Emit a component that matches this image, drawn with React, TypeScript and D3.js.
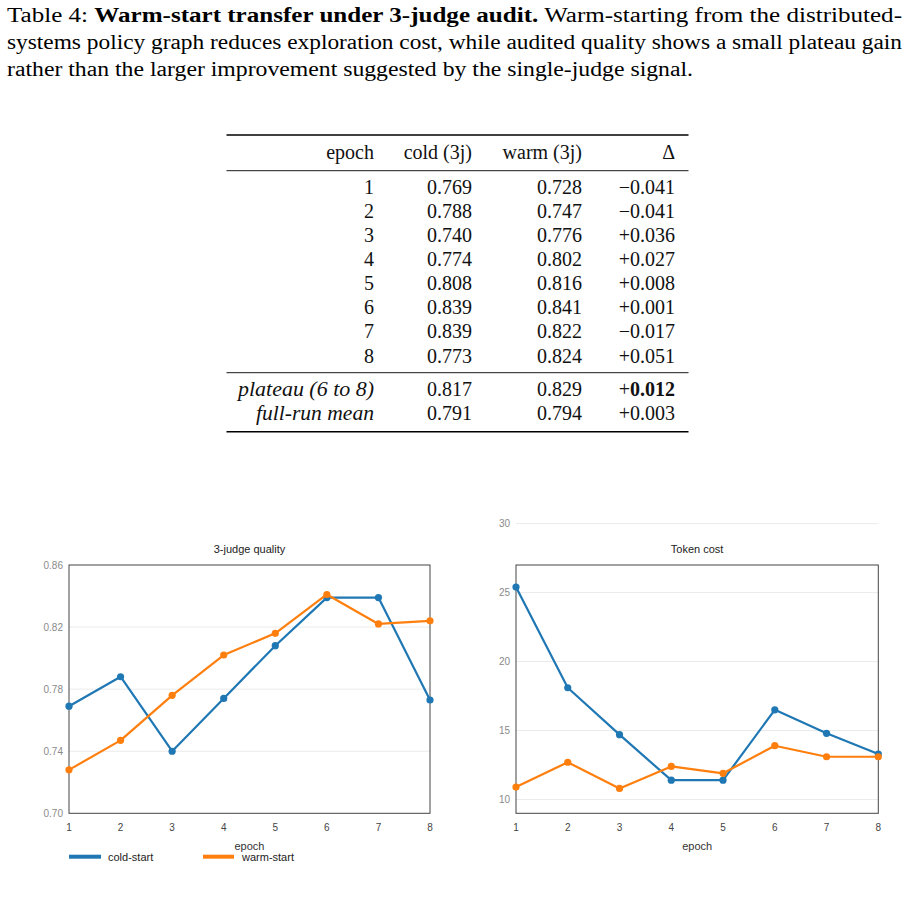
import React from 'react';
import * as d3 from 'd3';

// data
const epochs = [1, 2, 3, 4, 5, 6, 7, 8];
const coldQuality = [0.769, 0.788, 0.74, 0.774, 0.808, 0.839, 0.839, 0.773];
const warmQuality = [0.728, 0.747, 0.776, 0.802, 0.816, 0.841, 0.822, 0.824];
const deltaLabels = ['−0.041', '−0.041', '+0.036', '+0.027', '+0.008', '+0.001', '−0.017', '+0.051'];
const summaryLabels = ['plateau (6 to 8)', 'full-run mean'];
const summaryCold = ['0.817', '0.791'];
const summaryWarm = ['0.829', '0.794'];
const summaryDelta = ['0.012', '0.003'];
const headerLabels = ['epoch', 'cold (3j)', 'warm (3j)', 'Δ'];

const coldCost = [25.4, 18.1, 14.7, 11.4, 11.4, 16.5, 14.8, 13.3];
const warmCost = [10.9, 12.7, 10.8, 12.4, 11.9, 13.9, 13.1, 13.1];
const qualityTicks = [0.7, 0.74, 0.78, 0.82, 0.86];
const costTicks = [10, 15, 20, 25, 30];

const BLUE = '#1f77b4';
const ORANGE = '#ff7f0e';
const SERIF = '"Liberation Serif", "Times New Roman", serif';
const SANS = '"Liberation Sans", Arial, sans-serif';

const captionLines = [
  { parts: [['Table 4: ', 400], ['Warm-start transfer under 3-judge audit.', 700], [' Warm-starting from the distributed-', 400]], len: 895 },
  { parts: [['systems policy graph reduces exploration cost, while audited quality shows a small plateau gain', 400]], len: 895 },
  { parts: [['rather than the larger improvement suggested by the single-judge signal.', 400]], len: 686 },
];

function Caption() {
  return (
    <g fontFamily={SERIF} fontSize={20} fill="#000">
      {captionLines.map((ln, i) => (
        <text key={i} x={7} y={22 + i * 27} textLength={ln.len} lengthAdjust="spacingAndGlyphs">
          {ln.parts.map(([t, w], j) => (
            <tspan key={j} fontWeight={w as number}>{t as string}</tspan>
          ))}
        </text>
      ))}
    </g>
  );
}

function Table() {
  const colRight = [374, 472, 582, 675];
  const rowY = d3.scaleLinear().domain([1, 8]).range([187.3, 356]);
  const sumY = d3.scaleLinear().domain([0, 1]).range([389.3, 413.3]);
  const left = 226.5, right = 688.5;
  return (
    <g fontFamily={SERIF} fontSize={20} fill="#111" textAnchor="end">
      <line x1={left} x2={right} y1={135} y2={135} stroke="#000" strokeWidth={1.4} />
      <line x1={left} x2={right} y1={170.7} y2={170.7} stroke="#000" strokeWidth={0.9} />
      <line x1={left} x2={right} y1={372.7} y2={372.7} stroke="#000" strokeWidth={0.9} />
      <line x1={left} x2={right} y1={431.7} y2={431.7} stroke="#000" strokeWidth={1.4} />
      {headerLabels.map((h, i) => (
        <text key={h} x={colRight[i]} y={158.5}>{h}</text>
      ))}
      {epochs.map((e, i) => (
        <g key={e} transform={`translate(0,${rowY(e) + 6.5})`}>
          <text x={colRight[0]}>{e}</text>
          <text x={colRight[1]}>{coldQuality[i].toFixed(3)}</text>
          <text x={colRight[2]}>{warmQuality[i].toFixed(3)}</text>
          <text x={colRight[3]}>{deltaLabels[i]}</text>
        </g>
      ))}
      {summaryLabels.map((l, i) => (
        <g key={l} transform={`translate(0,${sumY(i) + 6.5})`}>
          <text x={colRight[0]} fontStyle="italic" textLength={i === 0 ? 136 : 118} lengthAdjust="spacingAndGlyphs">{l}</text>
          <text x={colRight[1]}>{summaryCold[i]}</text>
          <text x={colRight[2]}>{summaryWarm[i]}</text>
          <text x={colRight[3]}>
            <tspan>+</tspan>
            <tspan fontWeight={i === 0 ? 700 : 400}>{summaryDelta[i]}</tspan>
          </text>
        </g>
      ))}
    </g>
  );
}

interface ChartProps {
  left: number;
  right: number;
  title: string;
  domain: [number, number];
  ticks: number[];
  fmt: (v: number) => string;
  cold: number[];
  warm: number[];
  legend?: boolean;
}

function LineChart({ left, right, title, domain, ticks, fmt, cold, warm, legend }: ChartProps) {
  const top = 565, bottom = 813.3;
  const x = d3.scaleLinear().domain([1, 8]).range([left, right]);
  const y = d3.scaleLinear().domain(domain).range([bottom, top]);
  const line = d3.line<number>().x((_, i) => x(epochs[i])).y(d => y(d));
  const series = [
    { vals: cold, color: BLUE },
    { vals: warm, color: ORANGE },
  ];
  const mid = (left + right) / 2;
  return (
    <g fontFamily={SANS}>
      {ticks.map(t => (
        <g key={t}>
          {y(t) > top + 1 && y(t) < bottom - 1 || y(t) < top ? (
            <line x1={left} x2={right} y1={y(t)} y2={y(t)} stroke="#ebebeb" strokeWidth={1} />
          ) : null}
          <text x={left - 6} y={y(t) + 3.5} textAnchor="end" fontSize={10} fill="#8a8a8a">{fmt(t)}</text>
        </g>
      ))}
      <rect x={left} y={top} width={right - left} height={bottom - top} fill="none" stroke="#444" strokeWidth={1} />
      <text x={mid} y={552.5} textAnchor="middle" fontSize={11} fill="#222">{title}</text>
      {series.map((s, k) => (
        <g key={k}>
          <path d={line(s.vals) || ''} fill="none" stroke={s.color} strokeWidth={2.2} strokeLinejoin="round" />
          {s.vals.map((v, i) => (
            <circle key={i} cx={x(epochs[i])} cy={y(v)} r={3.6} fill={s.color} />
          ))}
        </g>
      ))}
      {epochs.map(e => (
        <text key={e} x={x(e)} y={831} textAnchor="middle" fontSize={10} fill="#444">{e}</text>
      ))}
      <text x={mid} y={850} textAnchor="middle" fontSize={11} fill="#333">epoch</text>
      {legend ? (
        <g fontSize={11} fill="#222">
          <line x1={69} x2={101} y1={856.7} y2={856.7} stroke={BLUE} strokeWidth={4} />
          <text x={108} y={860.5}>cold-start</text>
          <line x1={203} x2={234} y1={856.7} y2={856.7} stroke={ORANGE} strokeWidth={4} />
          <text x={242} y={860.5}>warm-start</text>
        </g>
      ) : null}
    </g>
  );
}

export default function App() {
  return (
    <svg
      width={914}
      height={923}
      style={{ position: 'absolute', left: 0, top: 0, background: '#fff' }}
    >
      <rect width={914} height={923} fill="#fff" />
      <Caption />
      <Table />
      <LineChart
        left={69}
        right={430}
        title="3-judge quality"
        domain={[0.7, 0.86]}
        ticks={qualityTicks}
        fmt={v => v.toFixed(2)}
        cold={coldQuality}
        warm={warmQuality}
        legend
      />
      <LineChart
        left={516}
        right={878.3}
        title="Token cost"
        domain={[9, 27]}
        ticks={costTicks}
        fmt={v => String(v)}
        cold={coldCost}
        warm={warmCost}
      />
    </svg>
  );
}
